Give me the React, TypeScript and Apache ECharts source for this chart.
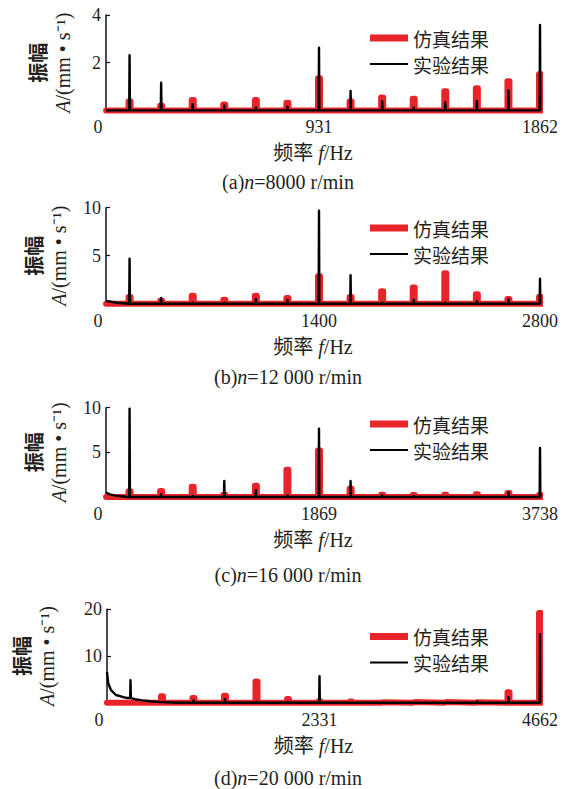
import React, { useEffect, useRef } from "react";
import * as echarts from "echarts";

// ---- data ----
const panelMax = [1862, 2800, 3738, 4662];
const yMax = [4, 10, 10, 20];
const yInterval = [2, 5, 5, 10];
const captionTags = ["(a)", "(b)", "(c)", "(d)"];
const speeds = ["8000", "12 000", "16 000", "20 000"];
const startFreq = [34, 51, 68, 84];

// simulated amplitudes at harmonics k = 1..14
const simA = [0.37, 0.2, 0.44, 0.25, 0.44, 0.32, 1.35, 0.37, 0.54, 0.49, 0.8, 0.93, 1.22, 1.52];
const simB = [0.69, 0.3, 0.84, 0.42, 0.84, 0.59, 2.86, 0.69, 1.29, 1.69, 3.17, 0.99, 0.49, 0.69];
const simC = [0.63, 0.66, 1.16, 0.26, 1.26, 3.06, 5.22, 0.93, 0.26, 0.21, 0.26, 0.31, 0.46, 0.21];
const simD = [0, 1.36, 1.01, 1.51, 4.56, 0.79, 0.3, 0.25, 0.1, 0.15, 0.15, 0.1, 2.23, 19.2];

// experimental amplitudes at harmonics k = 1..14
const expA = [2.31, 1.16, 0.26, 0.21, 0.11, 0.16, 2.63, 0.82, 0.39, 0.11, 0.33, 0.4, 0.84, 3.58];
const expB = [4.7, 0.6, 0.1, 0.1, 0.5, 0.4, 9.7, 2.96, 0.1, 0.4, 0.1, 0.25, 0.45, 2.6];
const expC = [9.9, 0.3, 0.1, 1.8, 0.75, 0.2, 7.65, 1.8, 0.2, 0.1, 0, 0, 0.5, 5.5];
const expD = [4.8, 0.2, 0.5, 0.75, 0.2, 0.2, 5.7, 0.1, 0.1, 0.1, 0.1, 0.3, 1.2, 14.65];

// low-frequency background of the measured spectra [f, A]
const expLowA: number[][] = [];
const expLowB = [[51, 0.3], [120, 0.1], [200, 0]];
const expLowC = [[68, 0.5], [100, 0.3], [150, 0.15], [250, 0]];
const expLowD = [
  [84, 6.6], [98, 4.1], [127, 2.7], [179, 1.65], [267, 1.15], [300, 1.0],
  [380, 0.75], [460, 0.5], [540, 0.3], [650, 0.12], [850, 0],
];

const simAll = [simA, simB, simC, simD];
const expAll = [expA, expB, expC, expD];
const expLowAll = [expLowA, expLowB, expLowC, expLowD];

// ---- layout / style ----
const FONT = "'Liberation Serif', 'Noto Sans CJK SC', serif";
const CJK = "'Noto Sans CJK SC', sans-serif";
const RED = "#e8242b";
const TXT = "#231f20";
const gridLeft = 98;
const gridWidth = 442;
const gridTops = [15, 207.7, 407.7, 609.3];
const gridHeights = [95.4, 96, 89.3, 93.4];
const captionY = [181.7, 377, 575, 778.3];
const legendTops = [28.5, 218.5, 414.5, 627];
const yNameGap = [30, 30, 30, 47];

function simLine(peaks: number[], step: number, start: number, end: number, half: number) {
  const pts: number[][] = [[start, 0]];
  peaks.forEach((a, i) => {
    if (a <= 0) return;
    const f = step * (i + 1);
    pts.push([f - half, 0], [f - half, a], [f + half, a], [f + half, 0]);
  });
  pts.push([end, 0]);
  return pts;
}

function expLine(peaks: number[], step: number, start: number, end: number, half: number, low: number[][]) {
  const pts: number[][] = low.length ? low.map((p) => [p[0], p[1]]) : [[start, 0]];
  const baseAt = (f: number) => {
    let b = 0;
    for (const p of low) if (p[0] <= f) b = p[1];
    return b;
  };
  peaks.forEach((a, i) => {
    if (a <= 0) return;
    const f = step * (i + 1);
    const b = baseAt(f);
    pts.push([f - half, b], [f, a], [f + half, b]);
  });
  pts.push([end, 0]);
  pts.sort((p, q) => p[0] - q[0]);
  return pts;
}

export default function App() {
  const ref = useRef<HTMLDivElement>(null);
  useEffect(() => {
    if (!ref.current) return;
    const chart = echarts.init(ref.current, null, { renderer: "svg" });
    const grids: any[] = [];
    const xAxes: any[] = [];
    const yAxes: any[] = [];
    const series: any[] = [];
    const legends: any[] = [];
    const graphics: any[] = [];
    for (let i = 0; i < 4; i++) {
      const max = panelMax[i];
      const step = max / 14;
      const hzPerPx = max / gridWidth;
      grids.push({ left: gridLeft, top: gridTops[i], width: gridWidth, height: gridHeights[i], containLabel: false });
      xAxes.push({
        type: "value",
        gridIndex: i,
        min: 0,
        max,
        interval: max / 2,
        axisLine: { show: false },
        axisTick: { show: false },
        splitLine: { show: false },
        axisLabel: {
          fontSize: 18,
          color: TXT,
          fontFamily: FONT,
          margin: 8,
          formatter: (v: number) => String(v),
        },
        name: "频率 {i|f}/Hz",
        nameLocation: "middle",
        nameGap: 33,
        nameTextStyle: {
          fontSize: 20,
          color: TXT,
          fontFamily: FONT,
          padding: [0, 12, 0, 0],
          rich: { i: { fontStyle: "italic", fontSize: 20, fontFamily: FONT, color: TXT } },
        },
      });
      yAxes.push({
        type: "value",
        gridIndex: i,
        min: 0,
        max: yMax[i],
        interval: yInterval[i],
        offset: -8,
        axisLine: { show: true, lineStyle: { color: "#111", width: 1.5 } },
        axisTick: { show: true, inside: true, length: 4, lineStyle: { color: "#111", width: 1.2 } },
        splitLine: { show: false },
        axisLabel: {
          fontSize: 18,
          color: TXT,
          fontFamily: FONT,
          margin: 5,
          showMinLabel: false,
          formatter: (v: number) => String(v),
        },
        name: "{c|振幅}\n{i|A}{r|/(mm • s⁻¹)}",
        nameLocation: "middle",
        nameRotate: 90,
        nameGap: yNameGap[i],
        nameTextStyle: {
          color: TXT,
          fontSize: 20,
          lineHeight: 26,
          fontFamily: FONT,
          rich: {
            c: { fontSize: 20, lineHeight: 26, fontFamily: CJK, fontWeight: "bold", color: TXT },
            i: { fontSize: 20, lineHeight: 26, fontStyle: "italic", fontFamily: FONT, color: TXT },
            r: { fontSize: 20, lineHeight: 26, fontFamily: FONT, color: TXT },
          },
        },
      });
      series.push({
        name: "仿真结果",
        type: "line",
        xAxisIndex: i,
        yAxisIndex: i,
        showSymbol: false,
        symbol: "none",
        clip: false,
        silent: true,
        itemStyle: { color: RED },
        lineStyle: { color: RED, width: 6, join: "round", cap: "round" },
        data: simLine(simAll[i], step, startFreq[i], max + 2 * hzPerPx, hzPerPx),
        z: 2,
      });
      series.push({
        name: "实验结果",
        type: "line",
        xAxisIndex: i,
        yAxisIndex: i,
        showSymbol: false,
        symbol: "none",
        clip: false,
        silent: true,
        itemStyle: { color: "#000" },
        lineStyle: { color: "#000", width: 2.4, join: "round" },
        data: expLine(expAll[i], step, startFreq[i], max + 1 * hzPerPx, 0.35 * hzPerPx, expLowAll[i]),
        z: 3,
      });
      legends.push({
        orient: "vertical",
        left: 370,
        top: legendTops[i],
        padding: 0,
        itemGap: 7,
        itemWidth: 38,
        itemHeight: 7,
        selectedMode: false,
        itemStyle: { borderWidth: 0 },
        textStyle: { fontSize: 19, color: TXT, fontFamily: CJK },
        data: [
          { name: "仿真结果", icon: "path://M0 0H38V7H0Z", itemStyle: { color: RED, borderWidth: 0 } },
          { name: "实验结果", icon: "path://M0 0H38V2H0Z", itemStyle: { color: "#000", borderWidth: 0 } },
        ],
      });
      graphics.push({
        type: "text",
        x: 288,
        y: captionY[i],
        style: {
          text: `${captionTags[i]}{i|n}=${speeds[i]} r/min`,
          fontSize: 20,
          fontFamily: FONT,
          fill: TXT,
          align: "center",
          verticalAlign: "middle",
          rich: { i: { fontStyle: "italic", fontSize: 20, fontFamily: FONT, fill: TXT } },
        },
      });
    }
    chart.setOption({
      animation: false,
      backgroundColor: "#fff",
      textStyle: { fontFamily: FONT },
      grid: grids,
      xAxis: xAxes,
      yAxis: yAxes,
      series,
      legend: legends,
      graphic: graphics,
    });
    return () => chart.dispose();
  }, []);
  return <div ref={ref} style={{ position: "fixed", left: 0, top: 0, width: 567, height: 789 }} />;
}
